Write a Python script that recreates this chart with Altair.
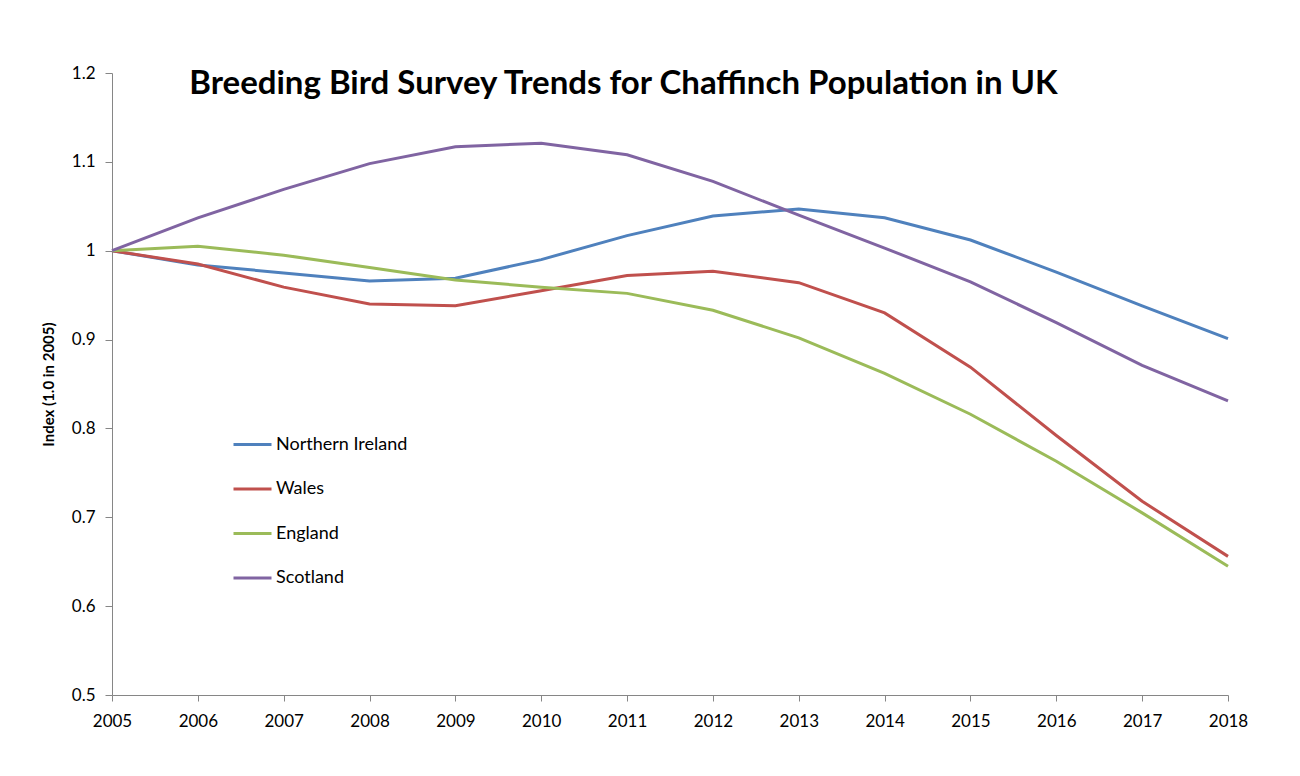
import altair as alt
import pandas as pd

years = list(range(2005, 2019))
northern_ireland = [1.0, 0.984, 0.975, 0.966, 0.969, 0.990, 1.017, 1.039, 1.047, 1.037, 1.012, 0.976, 0.938, 0.901]
wales = [1.0, 0.985, 0.959, 0.940, 0.938, 0.955, 0.972, 0.977, 0.964, 0.930, 0.869, 0.792, 0.718, 0.656]
england = [1.0, 1.005, 0.995, 0.981, 0.967, 0.959, 0.952, 0.933, 0.902, 0.862, 0.816, 0.763, 0.705, 0.645]
scotland = [1.0, 1.037, 1.069, 1.098, 1.117, 1.121, 1.108, 1.078, 1.040, 1.003, 0.965, 0.919, 0.871, 0.831]

series = ["Northern Ireland", "Wales", "England", "Scotland"]
colors = ["#4F81BD", "#C0504D", "#9BBB59", "#8064A2"]

rows = []
for name, vals in zip(series, [northern_ireland, wales, england, scotland]):
    for y, v in zip(years, vals):
        rows.append({"Year": y, "Index": v, "Region": name})
df = pd.DataFrame(rows)

tick_vals = [2005 + 0.5 * i for i in range(27)]
font = "Lato"
axis_color = "#868686"

chart = alt.Chart(df).mark_line(strokeWidth=3).encode(
    x=alt.X("Year:Q",
            scale=alt.Scale(domain=[2005, 2018], nice=False, zero=False),
            axis=alt.Axis(values=tick_vals, labelExpr="datum.value % 1 == 0 ? datum.value : ''",
                          format="d", grid=False, title=None, domainColor=axis_color,
                          tickColor=axis_color, tickSize=6, labelFontSize=17, labelFont=font,
                          labelColor="#000000", labelPadding=12, labelFlush=False, labelOverlap=False)),
    y=alt.Y("Index:Q",
            scale=alt.Scale(domain=[0.5, 1.2], nice=False, zero=False),
            axis=alt.Axis(values=[0.5, 0.6, 0.7, 0.8, 0.9, 1.0, 1.1, 1.2], format=".1~f",
                          grid=False, title="Index (1.0 in 2005)", titleFont=font, titleFontSize=15,
                          titleFontWeight="bold", titleColor="#000000", titlePadding=15,
                          domainColor=axis_color, tickColor=axis_color, tickSize=7,
                          labelFontSize=17, labelFont=font, labelColor="#000000", labelPadding=10)),
    color=alt.Color("Region:N",
                    scale=alt.Scale(domain=series, range=colors),
                    legend=alt.Legend(title=None, orient="none", legendX=120, legendY=351,
                                      symbolType="stroke", symbolSize=1444, symbolStrokeWidth=3,
                                      labelFont=font, labelFontSize=18, labelColor="#000000",
                                      labelOffset=3, rowPadding=14.5)),
    order=alt.Order("Year:Q"),
).properties(
    width=1116,
    height=622,
    title=alt.TitleParams("Breeding Bird Survey Trends for Chaffinch Population in UK",
                          font=font, fontSize=33, fontWeight="bold", color="#000000",
                          anchor="start", dx=148, offset=0, dy=63, baseline="alphabetic"),
    autosize=alt.AutoSizeParams(type="none"),
    padding={"left": 104, "top": 65, "right": 64, "bottom": 73},
).configure_view(stroke=None)

chart.save("out.html", embed_options={"renderer": "svg", "actions": False})
